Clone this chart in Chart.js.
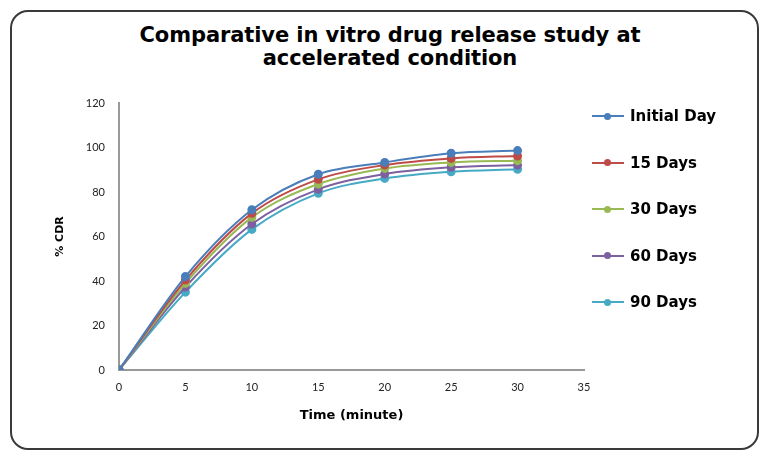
<!DOCTYPE html>
<html>
<head>
<meta charset="utf-8">
<script src="https://cdn.jsdelivr.net/npm/chart.js@4"></script>
<style>
  body { margin: 0; background: #fff; }
  #wrap { position: relative; width: 761px; height: 452px; overflow: hidden; }
  #frame { position: absolute; left: 10px; top: 10px; width: 745px; height: 436px;
           border: 2px solid #3a3a3a; border-radius: 18px; }
  #title { position: absolute; left: 20px; width: 740px; top: 24px; text-align: center;
           font: bold 21px "DejaVu Sans", sans-serif; line-height: 23px; color: #000; letter-spacing: -0.1px; }
  #legend { position: absolute; left: 592px; top: 105px; }
  .item { height: 46.5px; display: flex; align-items: flex-start; font: bold 15px "DejaVu Sans", sans-serif; color: #000; }
  .mark { position: relative; width: 32px; height: 22px; margin-right: 6px; }
  .mark .ln { position: absolute; left: 0; right: 0; top: 10px; height: 2px; }
  .mark .dt { position: absolute; left: 12px; top: 7.5px; width: 7px; height: 7px; border-radius: 50%; }
  .item span { line-height: 22px; }
  canvas { position: absolute; left: 0; top: 0; }
</style>
</head>
<body>
<div id="wrap">
  <div id="frame"></div>
  <div id="title">Comparative in vitro drug release study at<br>accelerated condition</div>
  <canvas id="chart" width="761" height="452"></canvas>
  <div id="legend"></div>
</div>
<script>
const times = [0, 5, 10, 15, 20, 25, 30]
const seriesNames = ['Initial Day', '15 Days', '30 Days', '60 Days', '90 Days']
const initialDay = [0, 42, 72, 88, 93.3, 97.4, 98.6]
const days15 = [0, 40.4, 70.4, 85.7, 92.1, 95.1, 96.2]
const days30 = [0, 39, 68.6, 83.6, 90.6, 93.3, 94.1]
const days60 = [0, 37.3, 65.6, 81.2, 88.1, 91.1, 92.1]
const days90 = [0, 35, 63.2, 79.4, 86.1, 89.1, 90.2]
const colors = ['#4a7ebb', '#be4b48', '#98b954', '#7d60a0', '#46aac5']

const values = [initialDay, days15, days30, days60, days90]

const datasets = values.map((vals, i) => ({
    label: seriesNames[i],
    data: vals.map((v, j) => ({ x: times[j], y: v })),
    borderColor: colors[i],
    backgroundColor: colors[i],
    borderWidth: 2,
    pointRadius: 3.5,
    pointHoverRadius: 3.5,
    tension: 0.4,
    cubicInterpolationMode: 'monotone'
}))

const legend = document.getElementById('legend')
seriesNames.forEach((name, i) => {
    const item = document.createElement('div')
    item.className = 'item'
    item.innerHTML = '<div class="mark"><div class="ln" style="background:' + colors[i] + '"></div>' +
        '<div class="dt" style="background:' + colors[i] + '"></div></div><span>' + name + '</span>'
    legend.appendChild(item)
})

const ctx = document.getElementById('chart').getContext('2d')
new Chart(ctx, {
    type: 'line',
    data: { datasets: datasets },
    options: {
        responsive: false,
        animation: false,
        layout: { padding: { left: 54, right: 177, top: 103, bottom: 25 } },
        plugins: { legend: { display: false }, tooltip: { enabled: false } },
        scales: {
            x: {
                type: 'linear',
                min: 0, max: 35,
                ticks: { stepSize: 5, color: '#222', font: { family: 'Lato', size: 11 }, padding: 7 },
                grid: { display: false, drawTicks: true, tickLength: 4 },
                border: { color: '#999', width: 2 },
                title: { display: true, text: 'Time (minute)', color: '#000',
                         font: { family: 'DejaVu Sans', size: 13, weight: 'bold' }, padding: { top: 8 } },
                afterFit(s) { s.height = 57 }
            },
            y: {
                min: 0, max: 120,
                ticks: { stepSize: 20, color: '#222', font: { family: 'Lato', size: 11 }, padding: 10 },
                grid: { display: false, tickLength: 4 },
                border: { color: '#999', width: 2 },
                title: { display: true, text: '% CDR', color: '#000',
                         font: { family: 'DejaVu Sans', size: 11, weight: 'bold' }, padding: 0 },
                afterFit(s) { s.width = 65 }
            }
        }
    }
})
</script>
</body>
</html>
